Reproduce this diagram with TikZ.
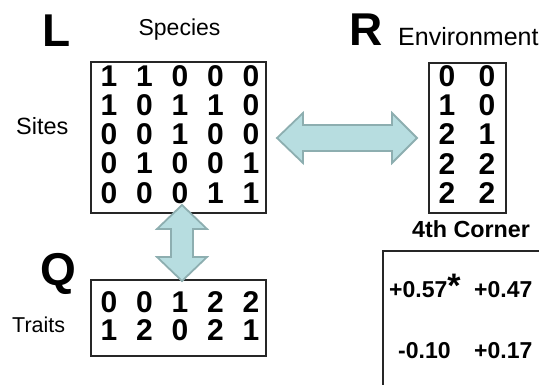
\documentclass[tikz,border=0pt]{standalone}
\usepackage{fontspec}
\setmainfont{Liberation Sans}
\definecolor{arrowfill}{HTML}{B7DDE0}
\definecolor{arrowline}{HTML}{8DAEB0}
\begin{document}
\begin{tikzpicture}[x=1pt,y=-1pt,
  dig/.style={font=\fontsize{30}{30}\selectfont\bfseries, inner sep=0pt, anchor=center},
  mbox/.style={draw=black!85, line width=1.5pt, inner sep=0pt},
  big/.style={font=\fontsize{46}{46}\selectfont\bfseries, inner sep=0pt, anchor=base},
  lab/.style={inner sep=0pt},
  val/.style={font=\fontsize{23}{23}\selectfont\bfseries, inner sep=0pt, anchor=base west},
  fat/.style={fill=arrowfill, draw=arrowline, line width=1.8pt, line join=miter}]
\useasboundingbox (0,0) rectangle (539,385);
\clip (0,0) rectangle (539,385);
% boxes
\node[mbox, minimum width=175pt, minimum height=151pt] (Lbox) at (178.5,137.5) {};
\node[mbox, minimum width=77pt, minimum height=150pt] (Rbox) at (467.5,138) {};
\node[mbox, minimum width=175pt, minimum height=76pt] (Qbox) at (178.5,318) {};
\draw[line width=1.5pt, draw=black!85] (560,251) -- (383,251) -- (383,400);
% L matrix
\foreach \r [count=\i] in {{1,1,0,0,0},{1,0,1,1,0},{0,0,1,0,0},{0,1,0,0,1},{0,0,0,1,1}}{
  \foreach \d [count=\j] in \r {
    \node[dig] (L-\i-\j) at ({109+(\j-1)*35.5},{76+(\i-1)*29.2}) {\d};
  }
}
% R matrix
\foreach \r [count=\i] in {{0,0},{1,0},{2,1},{2,2},{2,2}}{
  \foreach \d [count=\j] in \r {
    \node[dig] (R-\i-\j) at ({447+(\j-1)*40},{76+(\i-1)*29.2}) {\d};
  }
}
% Q matrix
\foreach \r [count=\i] in {{0,0,1,2,2},{1,2,0,2,1}}{
  \foreach \d [count=\j] in \r {
    \node[dig] (Q-\i-\j) at ({109+(\j-1)*35.5},{302+(\i-1)*28}) {\d};
  }
}
% labels
\node[big] (Lt) at (57,47) {L};
\node[big] (Rt) at (366,46) {R};
\node[big] (Qt) at (58.5,286) {Q};
\node[lab, font=\fontsize{23}{23}\selectfont, anchor=base] (species) at (179.5,36) {Species};
\node[lab, font=\fontsize{25}{25}\selectfont, anchor=base west] (env) at (398,46) {Environment};
\node[lab, font=\fontsize{23.5}{23.5}\selectfont, anchor=base west] (sites) at (16,135) {Sites};
\node[lab, font=\fontsize{21.5}{21.5}\selectfont, anchor=base west] (traits) at (12,332) {Traits};
\node[lab, font=\fontsize{23.3}{23.3}\selectfont\bfseries, anchor=base] (corner) at (471,238) {4th Corner};
% 4th corner values
\node[val] (c11) at (389,298) {+0.57{\fontsize{34}{34}\selectfont *}};
\node[val] (c12) at (474,298) {+0.47};
\node[val] (c21) at (398,358) {-0.10};
\node[val] (c22) at (474,358) {+0.17};
% arrows
\draw[fat] (277,138) -- (303,113) -- (303,125) -- (392,125) -- (392,113) -- (417,138)
  -- (392,163) -- (392,151) -- (303,151) -- (303,163) -- cycle;
\draw[fat] (182,205) -- (207,229) -- (193,229) -- (193,257) -- (207,257) -- (182,281)
  -- (157,257) -- (171,257) -- (171,229) -- (157,229) -- cycle;
\end{tikzpicture}
\end{document}
